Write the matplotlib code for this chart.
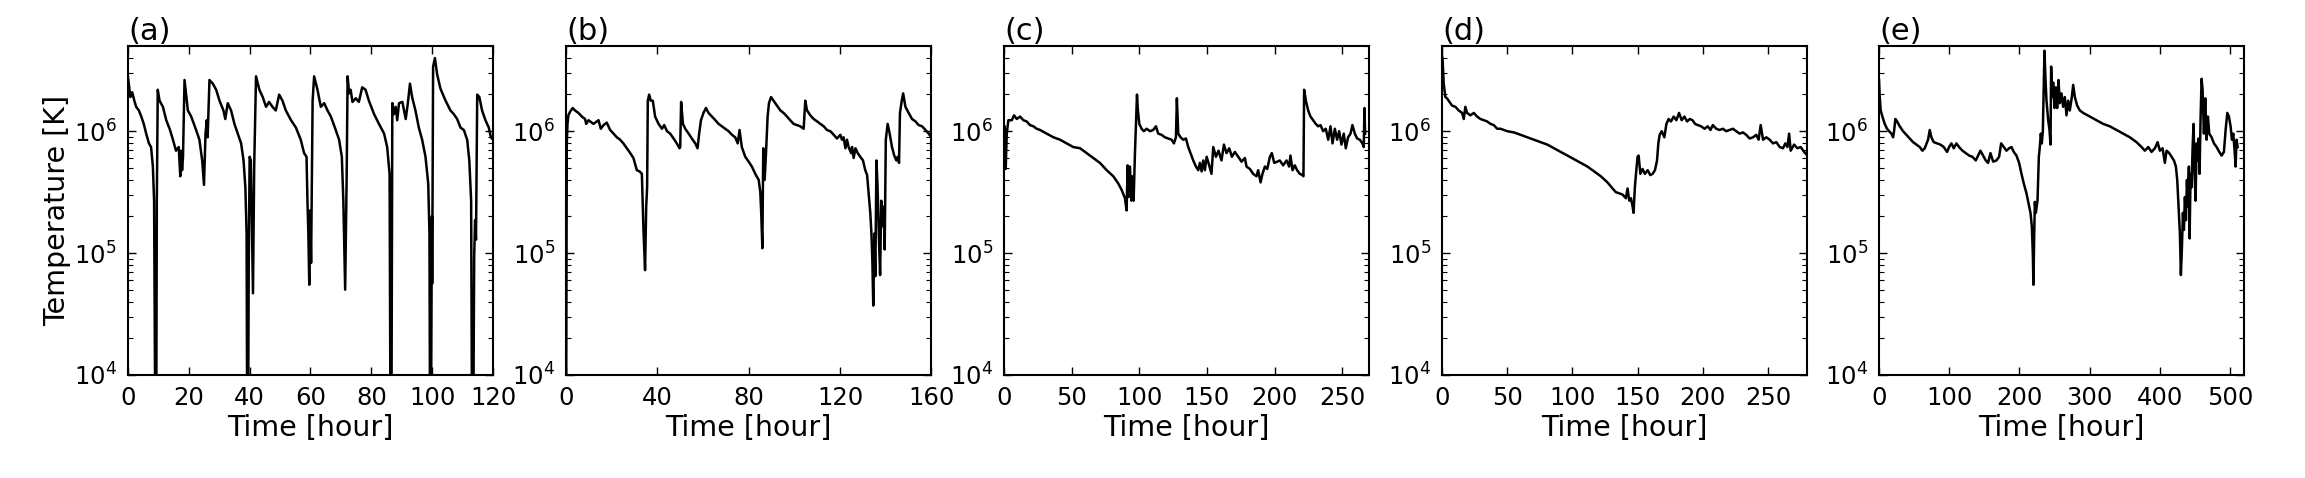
import numpy as np
import matplotlib
matplotlib.use("Agg")
import matplotlib.pyplot as plt

# values: time [hour], log10 of temperature [K]
t_a = [0, 0.8, 1.4, 2.1, 2.7, 3.6, 4.4, 5.2, 6.0, 6.9,
       7.6, 8.2, 8.6, 9.0, 9.3, 9.5, 9.8, 10.4, 11.5, 12.6,
       13.7, 14.8, 15.8, 16.7, 17.2, 17.5, 17.8, 18.1, 18.6, 19.1,
       19.7, 20.8, 22.4, 23.5, 24.4, 25.0, 25.5, 25.9, 26.2, 26.8,
       27.9, 29.0, 30.1, 31.4, 32.0, 32.8, 33.9, 35.0, 36.1, 37.2,
       38.0, 38.6, 39.0, 39.2, 39.5, 39.7, 40.0, 40.4, 40.8, 41.1,
       41.5, 42.1, 43.2, 44.3, 45.4, 46.4, 47.5, 48.6, 49.7, 50.8,
       51.9, 53.6, 55.2, 56.8, 57.9, 58.7, 59.0, 59.3, 59.6, 59.9,
       60.2, 60.7, 61.2, 62.3, 63.4, 64.5, 65.6, 66.7, 68.3, 69.4,
       70.3, 70.8, 71.4, 71.9, 72.2, 72.7, 73.2, 73.8, 74.9, 75.9,
       77.0, 78.1, 79.2, 80.9, 82.5, 84.2, 85.2, 86.0, 86.3, 86.6,
       86.9, 87.4, 88.0, 88.5, 89.1, 90.2, 91.3, 92.0, 92.7, 93.4,
       94.5, 95.6, 96.7, 97.8, 98.7, 99.1, 99.3, 99.6, 99.9, 100.0,
       100.3, 100.9, 101.6, 102.7, 104.4, 106.0, 107.1, 108.2, 109.3, 110.4,
       111.5, 112.2, 112.8, 113.1, 113.5, 113.8, 114.1, 114.4, 114.8, 115.5,
       116.4, 117.5, 118.6, 119.3, 120.0]
logT_a = [6.45, 6.28, 6.32, 6.25, 6.20, 6.17, 6.12, 6.06, 5.98, 5.90,
          5.87, 5.71, 5.43, 3.5, 3.5, 5.43, 6.34, 6.25, 6.20, 6.09,
          6.02, 5.93, 5.84, 5.87, 5.63, 5.84, 5.68, 5.79, 6.42, 6.31,
          6.17, 6.12, 6.01, 5.93, 5.76, 5.56, 5.98, 6.09, 5.95, 6.42,
          6.39, 6.34, 6.25, 6.17, 6.10, 6.23, 6.17, 6.06, 5.98, 5.90,
          5.76, 5.54, 5.16, 3.5, 3.5, 4.89, 5.79, 5.76, 5.16, 4.67,
          5.71, 6.45, 6.34, 6.28, 6.20, 6.24, 6.20, 6.17, 6.30, 6.25,
          6.17, 6.09, 6.03, 5.93, 5.82, 5.79, 5.43, 5.16, 4.74, 5.35,
          4.92, 6.25, 6.45, 6.34, 6.20, 6.23, 6.17, 6.12, 6.01, 5.93,
          5.79, 5.43, 4.70, 5.65, 6.45, 6.31, 6.34, 6.24, 6.27, 6.24,
          6.36, 6.34, 6.25, 6.14, 6.06, 5.98, 5.87, 5.65, 3.5, 3.5,
          6.23, 6.14, 6.20, 6.09, 6.23, 6.24, 6.10, 6.23, 6.39, 6.28,
          6.17, 6.03, 5.93, 5.79, 5.57, 5.16, 3.5, 3.5, 5.30, 4.75,
          6.53, 6.60, 6.47, 6.35, 6.25, 6.17, 6.14, 6.10, 6.03, 6.01,
          5.93, 5.76, 5.43, 3.5, 3.5, 4.97, 5.27, 5.11, 6.30, 6.28,
          6.17, 6.09, 6.03, 5.95, 5.93]

t_b = [0, 0.3, 0.6, 1.0, 1.75, 2.9, 3.9, 5.4, 6.9, 8.3,
       8.8, 9.8, 12.0, 14.2, 15.2, 16.4, 17.8, 19.3, 20.8, 22.2,
       23.7, 25.1, 26.6, 28.1, 29.5, 31.0, 32.2, 33.2, 33.6, 33.9,
       34.4, 34.6, 35.1, 35.5, 35.8, 36.4, 37.1, 38.0, 39.0, 40.5,
       42.0, 43.0, 44.2, 45.6, 47.1, 48.5, 49.7, 50.0, 50.4, 51.2,
       52.2, 53.7, 55.1, 56.6, 57.6, 58.3, 59.1, 60.2, 61.3, 62.4,
       63.9, 65.4, 66.8, 68.3, 69.7, 71.2, 72.7, 74.1, 75.2, 76.0,
       77.0, 78.5, 80.0, 81.4, 82.9, 84.4, 85.1, 85.5, 86.0, 86.4,
       87.0, 87.6, 88.3, 88.9, 89.8, 90.9, 92.4, 93.9, 95.3, 96.8,
       98.2, 99.7, 101.2, 102.6, 104.1, 104.8, 105.6, 107.0, 108.5, 110.0,
       111.4, 112.9, 114.3, 115.8, 117.3, 118.7, 120.2, 120.9, 121.6, 122.4,
       123.1, 123.8, 124.9, 125.3, 126.0, 126.8, 127.8, 128.9, 130.1, 131.1,
       131.9, 132.6, 133.3, 133.8, 134.2, 134.6, 135.1, 135.5, 136.0, 136.5,
       137.1, 137.6, 138.1, 138.6, 139.2, 139.6, 140.1, 140.9, 141.8, 142.8,
       143.8, 144.7, 145.3, 145.9, 146.3, 147.1, 147.7, 148.7, 150.1, 151.6,
       153.1, 154.5, 156.0, 157.5, 158.9, 160.0]
logT_b = [3.5, 5.9, 6.06, 6.13, 6.16, 6.19, 6.17, 6.15, 6.12, 6.10,
          6.06, 6.09, 6.06, 6.09, 6.02, 6.05, 6.07, 6.01, 5.98, 5.95,
          5.93, 5.90, 5.86, 5.82, 5.78, 5.68, 5.67, 5.65, 5.38, 5.19,
          4.94, 4.86, 5.38, 5.54, 6.25, 6.30, 6.25, 6.25, 6.12, 6.06,
          6.02, 6.05, 6.00, 5.98, 5.94, 5.90, 5.86, 5.87, 6.24, 6.06,
          6.02, 5.98, 5.94, 5.90, 5.86, 5.98, 6.09, 6.15, 6.19, 6.15,
          6.12, 6.09, 6.06, 6.04, 6.02, 6.00, 5.97, 5.95, 5.90, 6.01,
          5.87, 5.79, 5.75, 5.71, 5.65, 5.60, 5.50, 5.33, 5.04, 5.86,
          5.60, 5.82, 6.12, 6.23, 6.28, 6.25, 6.21, 6.17, 6.15, 6.12,
          6.09, 6.06, 6.05, 6.04, 6.02, 6.25, 6.17, 6.13, 6.10, 6.08,
          6.06, 6.04, 6.01, 6.00, 5.97, 5.94, 5.97, 5.93, 5.95, 5.86,
          5.93, 5.87, 5.82, 5.87, 5.78, 5.86, 5.82, 5.79, 5.76, 5.68,
          5.64, 5.49, 5.33, 5.16, 4.94, 4.57, 5.16, 4.81, 5.76, 5.54,
          5.11, 4.82, 5.43, 5.22, 5.38, 5.03, 5.93, 6.06, 5.98, 5.87,
          5.80, 5.76, 5.79, 5.74, 6.15, 6.25, 6.31, 6.20, 6.15, 6.10,
          6.08, 6.05, 6.04, 6.01, 5.98, 5.95]

t_c = [0, 0.5, 1.2, 2.0, 3.2, 5.7, 7.4, 9.4, 11.8, 14.3,
       16.7, 19.2, 21.7, 24.1, 26.6, 31.5, 36.5, 41.4, 46.3, 51.2,
       56.2, 61.1, 66.0, 70.9, 75.9, 80.8, 84.5, 86.9, 89.4, 90.6,
       91.4, 92.1, 93.1, 94.1, 94.8, 95.8, 96.8, 97.5, 98.3, 99.0,
       100.0, 101.7, 103.4, 105.4, 107.9, 110.3, 112.3, 114.0, 116.5, 118.9,
       121.4, 123.9, 125.6, 127.1, 127.8, 128.8, 130.5, 132.5, 134.5, 136.2,
       137.9, 139.9, 141.9, 143.6, 144.8, 146.1, 147.3, 148.5, 149.8, 151.7,
       153.4, 154.7, 156.7, 158.6, 160.8, 162.6, 164.5, 166.5, 168.5, 170.7,
       173.2, 175.6, 178.1, 179.3, 181.8, 184.2, 186.7, 187.9, 189.7, 191.1,
       192.9, 194.6, 196.6, 198.0, 199.8, 202.0, 203.9, 206.4, 208.9, 210.8,
       211.8, 213.3, 215.0, 216.7, 218.7, 220.7, 221.4, 221.9, 223.2, 224.9,
       226.6, 228.6, 230.5, 232.3, 234.0, 236.0, 237.9, 239.7, 241.4, 242.9,
       244.6, 246.3, 247.8, 249.5, 251.2, 252.7, 254.4, 256.2, 257.6, 259.4,
       261.1, 263.1, 265.0, 266.0, 266.5, 267.0]
logT_c = [6.0, 6.04, 5.69, 5.98, 6.09, 6.09, 6.13, 6.10, 6.12, 6.09,
          6.08, 6.05, 6.04, 6.02, 6.01, 5.98, 5.95, 5.93, 5.90, 5.87,
          5.86, 5.82, 5.78, 5.74, 5.68, 5.63, 5.57, 5.52, 5.45, 5.35,
          5.72, 5.46, 5.71, 5.43, 5.63, 5.43, 5.82, 6.04, 6.30, 6.17,
          6.06, 6.02, 6.00, 6.02, 6.00, 6.01, 6.04, 5.98, 5.97, 5.95,
          5.94, 5.93, 5.90, 5.95, 6.27, 5.98, 5.95, 5.93, 5.94, 5.87,
          5.82, 5.76, 5.71, 5.68, 5.74, 5.67, 5.76, 5.68, 5.79, 5.72,
          5.65, 5.87, 5.79, 5.84, 5.76, 5.89, 5.82, 5.86, 5.79, 5.83,
          5.79, 5.75, 5.78, 5.71, 5.69, 5.65, 5.63, 5.68, 5.58, 5.65,
          5.71, 5.69, 5.79, 5.82, 5.74, 5.75, 5.76, 5.72, 5.76, 5.71,
          5.80, 5.68, 5.72, 5.68, 5.65, 5.64, 5.63, 6.34, 6.25, 6.17,
          6.12, 6.09, 6.06, 6.04, 6.05, 6.00, 6.02, 5.93, 6.04, 5.90,
          6.02, 5.93, 6.00, 5.89, 5.98, 5.86, 5.95, 5.98, 6.05, 5.98,
          5.94, 5.93, 5.90, 5.87, 6.19, 5.98]

t_d = [0, 0.5, 1.3, 2.6, 3.8, 5.1, 7.7, 10.3, 12.8, 15.4,
       16.7, 17.9, 19.2, 21.8, 24.4, 26.9, 29.5, 32.1, 34.6, 37.2,
       39.7, 42.3, 44.9, 50.0, 55.1, 60.3, 65.4, 70.5, 75.6, 80.8,
       85.9, 91.0, 96.2, 101.3, 106.4, 111.5, 116.7, 121.8, 126.9, 130.8,
       133.3, 135.9, 138.5, 141.0, 142.3, 143.6, 144.9, 146.2, 146.9, 147.9,
       149.0, 150.0, 150.8, 152.1, 153.8, 155.6, 157.7, 159.7, 161.5, 163.3,
       164.9, 165.9, 166.9, 168.5, 170.5, 172.1, 173.8, 175.6, 177.7, 179.7,
       181.8, 183.8, 185.9, 187.9, 190.0, 192.1, 194.1, 196.2, 198.7, 201.3,
       203.8, 205.9, 207.7, 210.3, 212.8, 215.4, 217.9, 220.5, 223.1, 225.6,
       228.2, 230.8, 233.3, 235.9, 238.5, 241.0, 242.8, 244.4, 246.2, 248.7,
       251.3, 253.8, 256.4, 259.0, 261.5, 263.3, 264.9, 266.2, 267.4, 270.0,
       272.6, 275.1, 277.7, 280.3]
logT_d = [6.62, 6.58, 6.39, 6.28, 6.27, 6.25, 6.21, 6.20, 6.17, 6.15,
          6.10, 6.20, 6.15, 6.13, 6.15, 6.12, 6.10, 6.09, 6.08, 6.06,
          6.05, 6.02, 6.02, 6.00, 5.99, 5.97, 5.95, 5.93, 5.91, 5.89,
          5.86, 5.83, 5.80, 5.77, 5.74, 5.71, 5.67, 5.63, 5.58, 5.53,
          5.50, 5.49, 5.48, 5.45, 5.53, 5.43, 5.45, 5.38, 5.33, 5.54,
          5.68, 5.79, 5.80, 5.65, 5.69, 5.65, 5.68, 5.64, 5.65, 5.68,
          5.76, 5.90, 5.97, 6.00, 5.95, 6.06, 6.10, 6.08, 6.12, 6.09,
          6.15, 6.09, 6.12, 6.08, 6.10, 6.09, 6.06, 6.05, 6.04, 6.02,
          6.04, 6.01, 6.05, 6.02, 6.01, 6.02, 6.00, 6.01, 6.02, 6.00,
          5.98, 5.99, 5.97, 5.94, 5.95, 5.97, 5.93, 6.05, 5.93, 5.95,
          5.93, 5.90, 5.91, 5.87, 5.86, 5.90, 5.87, 5.98, 5.84, 5.89,
          5.86, 5.87, 5.83, 5.80]

t_e = [0, 1.0, 2.4, 4.8, 8.1, 11.4, 14.3, 17.6, 20.0, 21.4,
       23.3, 25.7, 29.5, 34.2, 39.0, 43.7, 48.5, 53.2, 58.0, 61.8,
       65.1, 69.8, 72.2, 74.6, 77.9, 82.7, 87.4, 92.2, 96.9, 99.8,
       103.1, 106.4, 110.2, 114.0, 118.8, 123.5, 128.3, 133.0, 137.8, 141.1,
       144.4, 148.2, 152.0, 155.3, 158.7, 162.5, 167.2, 171.0, 173.9, 177.7,
       181.5, 185.3, 188.6, 191.9, 195.7, 199.5, 202.9, 206.2, 210.0, 212.8,
       215.7, 217.6, 219.0, 219.9, 220.9, 221.9, 223.3, 225.7, 227.6, 229.0,
       230.4, 231.8, 233.3, 234.7, 235.6, 237.1, 238.5, 240.9, 242.8, 244.2,
       245.1, 246.6, 248.0, 249.9, 251.8, 253.7, 255.6, 257.5, 259.9, 262.2,
       264.6, 267.0, 269.4, 271.7, 274.6, 276.5, 278.9, 282.2, 286.0, 290.7,
       300.2, 309.7, 319.2, 328.7, 338.2, 347.7, 357.2, 366.7, 373.9, 378.6,
       383.4, 388.1, 392.9, 396.7, 400.0, 403.8, 407.1, 409.5, 413.3, 416.6,
       420.0, 422.8, 424.7, 426.6, 428.5, 429.9, 431.4, 432.8, 434.2, 435.6,
       437.1, 438.5, 439.9, 441.3, 442.3, 443.7, 445.1, 446.6, 448.0, 449.4,
       450.8, 452.3, 453.7, 455.1, 456.5, 458.0, 459.4, 460.8, 462.7, 464.6,
       466.5, 468.4, 470.3, 473.6, 477.0, 480.8, 484.6, 487.9, 491.2, 493.6,
       496.0, 498.3, 500.7, 502.6, 504.5, 506.4, 507.8, 509.2, 510.7]
logT_e = [6.42, 6.28, 6.17, 6.12, 6.06, 6.02, 6.00, 5.98, 5.95, 6.00,
          6.10, 6.08, 6.04, 6.00, 5.97, 5.94, 5.91, 5.89, 5.87, 5.84,
          5.86, 5.93, 6.01, 5.95, 5.91, 5.90, 5.89, 5.87, 5.83, 5.87,
          5.90, 5.86, 5.90, 5.87, 5.84, 5.82, 5.80, 5.79, 5.76, 5.80,
          5.84, 5.80, 5.76, 5.74, 5.82, 5.75, 5.76, 5.79, 5.90, 5.87,
          5.84, 5.86, 5.87, 5.83, 5.80, 5.74, 5.65, 5.57, 5.49, 5.41,
          5.33, 5.22, 5.00, 4.74, 5.11, 5.42, 5.33, 5.43, 5.79, 5.87,
          5.98, 5.90, 6.00, 6.42, 6.66, 6.42, 6.25, 6.09, 6.01, 5.89,
          6.53, 6.28, 6.40, 6.19, 6.36, 6.19, 6.42, 6.23, 6.31, 6.20,
          6.28, 6.13, 6.25, 6.17, 6.28, 6.38, 6.28, 6.21, 6.17, 6.15,
          6.12, 6.09, 6.06, 6.04, 6.01, 5.98, 5.95, 5.91, 5.87, 5.84,
          5.87, 5.83, 5.86, 5.91, 5.84, 5.86, 5.74, 5.84, 5.82, 5.79,
          5.76, 5.71, 5.60, 5.38, 5.16, 4.82, 5.05, 5.33, 5.19, 5.46,
          5.27, 5.60, 5.38, 5.71, 5.12, 5.65, 5.54, 5.87, 6.06, 5.65,
          5.43, 5.90, 5.76, 5.94, 5.65, 6.12, 6.43, 6.34, 5.98, 6.27,
          5.93, 6.12, 5.98, 5.95, 5.90, 5.87, 5.83, 5.80, 5.83, 6.01,
          6.15, 6.12, 6.04, 5.93, 5.98, 5.84, 5.71, 5.93, 5.87]

panel_labels = ["(a)", "(b)", "(c)", "(d)", "(e)"]
x_max = [120, 160, 270, 280, 520]
x_ticks = [range(0, 121, 20), range(0, 161, 40), range(0, 251, 50),
           range(0, 251, 50), range(0, 501, 100)]

series = [(t_a, logT_a), (t_b, logT_b), (t_c, logT_c), (t_d, logT_d), (t_e, logT_e)]

fig = plt.figure(figsize=(23.05, 4.78), dpi=100)
lefts = [0.0555, 0.2456, 0.4356, 0.6256, 0.8152]

for i, (t, logT) in enumerate(series):
    ax = fig.add_axes([lefts[i], 0.2155, 0.1584, 0.6883])
    ax.semilogy(t, 10 ** np.array(logT), color="black", lw=1.8)
    ax.set_xlim(0, x_max[i])
    ax.set_ylim(1e4, 5e6)
    ax.set_xticks(list(x_ticks[i]))
    ax.tick_params(which="both", direction="in", top=True, right=True, labelsize=17.5)
    ax.tick_params(which="major", length=6, width=1.0)
    ax.tick_params(which="minor", length=3.5, width=0.8)
    ax.tick_params(axis="x", pad=8)
    ax.tick_params(axis="y", pad=8)
    for s in ax.spines.values():
        s.set_linewidth(1.5)
    ax.set_xlabel("Time [hour]", fontsize=20.5, labelpad=3)
    ax.set_title(panel_labels[i], loc="left", fontsize=22, pad=4)
    if i == 0:
        ax.set_ylabel("Temperature [K]", fontsize=20.5, labelpad=2)

fig.savefig("out.png", dpi=100)
